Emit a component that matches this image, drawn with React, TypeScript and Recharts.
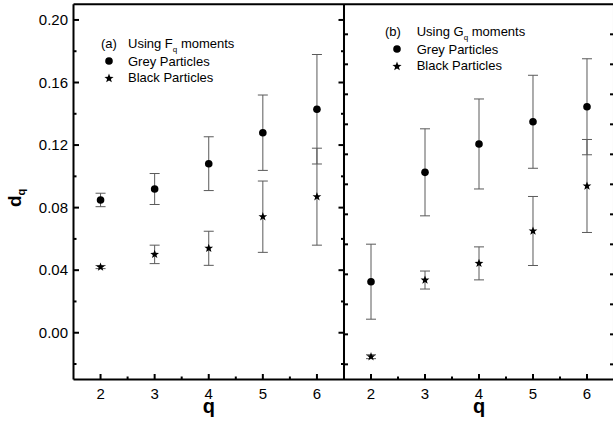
import React from "react";
import { ScatterChart, Scatter, XAxis, YAxis, ErrorBar, Legend, Label } from "recharts";

const FONT = "'Liberation Sans', Arial, sans-serif";

const qValues = [2, 3, 4, 5, 6];

// panel (a): F_q moments
const greyF = [0.0849, 0.0919, 0.1081, 0.1279, 0.1429];
const greyFErr = [0.0043, 0.0099, 0.0172, 0.0241, 0.035];
const blackF = [0.042, 0.0501, 0.054, 0.0742, 0.087];
const blackFErr = [0.001, 0.0059, 0.0109, 0.0228, 0.031];

// panel (b): G_q moments (own unlabeled scale)
const greyG = [0.0551, 0.128, 0.1469, 0.1617, 0.1717];
const greyGErr = [0.025, 0.029, 0.03, 0.031, 0.032];
const blackG = [0.0051, 0.0562, 0.0673, 0.0889, 0.1189];
const blackGErr = [0.0013, 0.006, 0.011, 0.023, 0.031];

const xTicks = [2, 2.5, 3, 3.5, 4, 4.5, 5, 5.5, 6];
const xMajor = [2, 3, 4, 5, 6];
const yTicksF = [-0.02, 0, 0.02, 0.04, 0.06, 0.08, 0.1, 0.12, 0.14, 0.16, 0.18, 0.2];
const yMajorF = [0, 0.04, 0.08, 0.12, 0.16, 0.2];
const yTicksG = [0, 0.02, 0.04, 0.06, 0.08, 0.1, 0.12, 0.14, 0.16, 0.18, 0.2, 0.22];

const xDomain = [1.5, 6.5];
const fDomain = [-0.0299, 0.21];
const gDomain = [-0.0101, 0.24];

const rows = (vals: number[], errs: number[]) =>
  qValues.map((q, i) => ({ q, v: vals[i], e: errs[i] }));

const AXIS = { stroke: "#000", strokeWidth: 2 };
const ERR = "#5a5a5a";
const THIN = 0.01; // mirror axes need a non-zero size to be drawn

type Side = "left" | "right" | "top" | "bottom";
const has = (list: number[] | null, v: number) =>
  !!list && list.some((t) => Math.abs(t - v) < 1e-9);

const makeTick =
  (side: Side, majors: number[], labels: number[] | null, majorLen: number, minorLen: number, fmt: (v: number) => string) =>
  (props: any) => {
    const x = Number(props.x);
    const y = Number(props.y);
    const v = props.payload.value;
    const len = has(majors, v) ? majorLen : minorLen;
    let x2 = x;
    let y2 = y;
    if (side === "left") x2 = x + len;
    if (side === "right") x2 = x - len;
    if (side === "top") y2 = y + len;
    if (side === "bottom") y2 = y - len;
    const show = has(labels, v);
    return (
      <g>
        <line x1={x} y1={y} x2={x2} y2={y2} stroke="#000" strokeWidth={2} />
        {show && side === "left" && (
          <text x={x - 5.5} y={y + 5.3} textAnchor="end" fontSize={15} fontFamily={FONT} fill="#000">
            {fmt(v)}
          </text>
        )}
        {show && side === "bottom" && (
          <text x={x} y={y + 19.2} textAnchor="middle" fontSize={15} fontFamily={FONT} fill="#000">
            {fmt(v)}
          </text>
        )}
      </g>
    );
  };

const QLabel = (props: any) => {
  const vb = props.viewBox;
  return (
    <text x={vb.x + vb.width / 2} y={vb.y + 33} textAnchor="middle" fontSize={20} fontWeight="bold" fontFamily={FONT} fill="#000">
      q
    </text>
  );
};

const DqLabel = () => (
  <text transform="translate(20.5,207) rotate(-90)" fontSize={19} fontWeight="bold" fontFamily={FONT} fill="#000">
    d
    <tspan fontSize={11} dy={4}>q</tspan>
  </text>
);

const starPoints = (cx: number, cy: number, R: number, r: number) => {
  const pts: string[] = [];
  for (let i = 0; i < 10; i++) {
    const rad = i % 2 === 0 ? R : r;
    const a = -Math.PI / 2 + (i * Math.PI) / 5;
    pts.push(`${cx + rad * Math.cos(a)},${cy + rad * Math.sin(a)}`);
  }
  return pts.join(" ");
};

const DotShape = (p: any) => <circle cx={p.cx} cy={p.cy} r={3.8} fill="#000" />;
const StarShape = (p: any) => <polygon points={starPoints(p.cx, p.cy, 4.6, 1.9)} fill="#000" />;

const PanelLegend = ({ tag, moment, iconLeft, colW }: { tag: string; moment: string; iconLeft: number; colW: number }) => (
  <div style={{ fontFamily: FONT, fontSize: 13, color: "#000", lineHeight: "17px", whiteSpace: "nowrap" }}>
    <div style={{ display: "flex", height: 18.5 }}>
      <span style={{ width: colW }}>{tag}</span>
      <span>
        Using {moment}
        <sub style={{ fontSize: 8, lineHeight: 0 }}>q</sub> moments
      </span>
    </div>
    <div style={{ display: "flex", height: 16.5, alignItems: "center" }}>
      <span style={{ width: colW }}>
        <svg width={12} height={12} style={{ marginLeft: iconLeft - 6, display: "block" }}>
          <circle cx={6} cy={6} r={3.8} fill="#000" />
        </svg>
      </span>
      <span>Grey Particles</span>
    </div>
    <div style={{ display: "flex", height: 16.5, alignItems: "center" }}>
      <span style={{ width: colW }}>
        <svg width={12} height={12} style={{ marginLeft: iconLeft - 6, display: "block" }}>
          <polygon points={starPoints(6, 6.4, 4.8, 2)} fill="#000" />
        </svg>
      </span>
      <span>Black Particles</span>
    </div>
  </div>
);

const fmt2 = (v: number) => v.toFixed(2);
const fmt0 = (v: number) => String(v);

export default function App() {
  return (
    <div style={{ position: "absolute", left: 0, top: 0, width: 613, height: 425, overflow: "hidden" }}>
      <div style={{ position: "absolute", left: 0, top: 0 }}>
        <ScatterChart width={344} height={425} margin={{ top: 4.3, right: 0, bottom: 0, left: 0 }}>
          <XAxis dataKey="q" type="number" domain={xDomain} allowDataOverflow ticks={xTicks} interval={0}
            height={45.5} tickSize={0} tickMargin={0} tickLine={false} axisLine={AXIS}
            tick={makeTick("bottom", xMajor, xMajor, 5.5, 3, fmt0)}>
            <Label content={QLabel} />
          </XAxis>
          <XAxis xAxisId="t" orientation="top" type="number" domain={xDomain} allowDataOverflow ticks={xTicks} interval={0}
            height={THIN} tickSize={0} tickMargin={0} tickLine={false} axisLine={AXIS}
            tick={makeTick("top", xMajor, null, 5.5, 3, fmt0)} />
          <YAxis dataKey="v" type="number" domain={fDomain} allowDataOverflow ticks={yTicksF} interval={0}
            width={73.5} tickSize={0} tickMargin={0} tickLine={false} axisLine={AXIS}
            tick={makeTick("left", yMajorF, yMajorF, 5.5, 3, fmt2)}>
            <Label content={DqLabel} />
          </YAxis>
          <YAxis yAxisId="r" orientation="right" type="number" domain={fDomain} allowDataOverflow ticks={yTicksF} interval={0}
            width={THIN} tickSize={0} tickMargin={0} tickLine={false} axisLine={AXIS}
            tick={makeTick("right", yMajorF, null, 5.5, 3, fmt2)} />
          <Scatter name="Grey Particles" data={rows(greyF, greyFErr)} dataKey="v" shape={DotShape} isAnimationActive={false}>
            <ErrorBar dataKey="e" direction="y" width={5} stroke={ERR} strokeWidth={1} />
          </Scatter>
          <Scatter name="Black Particles" data={rows(blackF, blackFErr)} dataKey="v" shape={StarShape} isAnimationActive={false}>
            <ErrorBar dataKey="e" direction="y" width={5} stroke={ERR} strokeWidth={1} />
          </Scatter>
          <Legend layout="vertical" align="center" verticalAlign="middle"
            wrapperStyle={{ left: 101, top: 34.5, width: 200, height: 60 }}
            content={() => <PanelLegend tag="(a)" moment="F" iconLeft={8} colW={27} />} />
        </ScatterChart>
      </div>
      <div style={{ position: "absolute", left: 344, top: 0 }}>
        <ScatterChart width={270} height={425} margin={{ top: 4.3, right: 0, bottom: 0, left: 0 }}>
          <XAxis dataKey="q" type="number" domain={xDomain} allowDataOverflow ticks={xTicks} interval={0}
            height={45.5} tickSize={0} tickMargin={0} tickLine={false} axisLine={AXIS}
            tick={makeTick("bottom", xMajor, xMajor, 5.5, 3, fmt0)}>
            <Label content={QLabel} />
          </XAxis>
          <XAxis xAxisId="t" orientation="top" type="number" domain={xDomain} allowDataOverflow ticks={xTicks} interval={0}
            height={THIN} tickSize={0} tickMargin={0} tickLine={false} axisLine={AXIS}
            tick={makeTick("top", xMajor, null, 5.5, 3, fmt0)} />
          <YAxis dataKey="v" type="number" domain={gDomain} allowDataOverflow ticks={yTicksG} interval={0}
            width={THIN} tickSize={0} tickMargin={0} tickLine={false} axisLine={AXIS}
            tick={makeTick("left", yTicksG, null, 4, 4, fmt2)} />
          <YAxis yAxisId="r" orientation="right" type="number" domain={gDomain} allowDataOverflow ticks={yTicksG} interval={0}
            width={THIN} tickSize={0} tickMargin={0} tickLine={false} axisLine={AXIS}
            tick={makeTick("right", yTicksG, null, 4, 4, fmt2)} />
          <Scatter name="Grey Particles" data={rows(greyG, greyGErr)} dataKey="v" shape={DotShape} isAnimationActive={false}>
            <ErrorBar dataKey="e" direction="y" width={5} stroke={ERR} strokeWidth={1} />
          </Scatter>
          <Scatter name="Black Particles" data={rows(blackG, blackGErr)} dataKey="v" shape={StarShape} isAnimationActive={false}>
            <ErrorBar dataKey="e" direction="y" width={5} stroke={ERR} strokeWidth={1} />
          </Scatter>
          <Legend layout="vertical" align="center" verticalAlign="middle"
            wrapperStyle={{ left: 41, top: 22.5, width: 200, height: 60 }}
            content={() => <PanelLegend tag="(b)" moment="G" iconLeft={11.7} colW={31.7} />} />
        </ScatterChart>
      </div>
    </div>
  );
}
